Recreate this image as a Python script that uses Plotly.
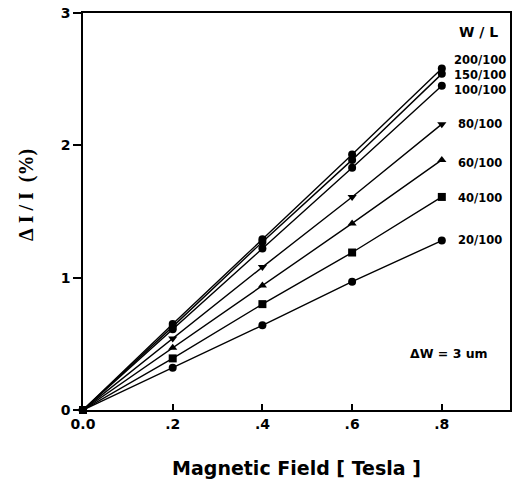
import plotly.graph_objects as go

field = [0.0, 0.2, 0.4, 0.6, 0.8]
series_names = ["200/100", "150/100", "100/100", "80/100", "60/100", "40/100", "20/100"]
values = {
    "200/100": [0.0, 0.65, 1.29, 1.93, 2.58],
    "150/100": [0.0, 0.63, 1.27, 1.89, 2.54],
    "100/100": [0.0, 0.61, 1.22, 1.83, 2.45],
    "80/100": [0.0, 0.54, 1.08, 1.61, 2.16],
    "60/100": [0.0, 0.47, 0.94, 1.41, 1.89],
    "40/100": [0.0, 0.39, 0.80, 1.19, 1.61],
    "20/100": [0.0, 0.32, 0.64, 0.97, 1.28],
}
symbols = {
    "200/100": "circle", "150/100": "circle", "100/100": "circle",
    "80/100": "triangle-down", "60/100": "triangle-up",
    "40/100": "square", "20/100": "circle",
}
label_y = [2.645, 2.535, 2.42, 2.16, 1.87, 1.60, 1.285]
x_ticks = [0.0, 0.2, 0.4, 0.6, 0.8]
x_tick_text = ["0.0", ".2", ".4", ".6", ".8"]
y_ticks = [0, 1, 2, 3]

SANS = "DejaVu Sans"
SERIF = "Liberation Serif"
fig = go.Figure()
for name in series_names:
    fig.add_trace(go.Scatter(
        x=field, y=values[name], mode="lines+markers", name=name,
        line=dict(color="black", width=1.4),
        marker=dict(symbol=symbols[name], size=8, color="black"),
        showlegend=False, cliponaxis=False,
    ))

for name, ly in zip(series_names, label_y):
    fig.add_annotation(x=0.884, y=ly, text=name, showarrow=False,
                       xref="x", yref="y",
                       font=dict(family=SANS, size=11.5, color="black", weight="bold"))
fig.add_annotation(x=0.882, y=2.86, text="W\u00a0/\u00a0L", showarrow=False,
                   font=dict(family=SANS, size=14, color="black", weight="bold"))
fig.add_annotation(x=0.816, y=0.43, text="ΔW = 3 um", showarrow=False,
                   font=dict(family=SANS, size=12.5, color="black", weight="bold"))
fig.add_annotation(x=-0.131, y=0.542, xref="paper", yref="paper",
                   text="Δ\u00a0I\u00a0/\u00a0I\u00a0\u00a0(%)", textangle=-90,
                   showarrow=False, xanchor="center", yanchor="middle",
                   font=dict(family=SERIF, size=20, color="black", weight="bold"))

fig.update_layout(
    width=514, height=483,
    margin=dict(l=83, r=4, t=13, b=73),
    plot_bgcolor="white", paper_bgcolor="white",
    font=dict(family=SANS, color="black"),
)
fig.update_xaxes(
    range=[0, 0.952], tickvals=x_ticks, ticktext=x_tick_text, automargin=False,
    ticks="inside", ticklen=6, tickwidth=1.5, tickcolor="black",
    showline=True, linecolor="black", linewidth=1.5, mirror=True,
    showgrid=False, zeroline=False, ticklabeloverflow="allow",
    tickfont=dict(family=SANS, size=14, color="black", weight="bold"),
    title=dict(text="Magnetic Field [ Tesla ]", standoff=31,
               font=dict(family=SANS, size=19, color="black", weight="bold")),
)
fig.update_yaxes(
    range=[0, 3], tickvals=y_ticks, automargin=False,
    ticks="outside", ticklen=8, tickwidth=1.5, tickcolor="black",
    showline=True, linecolor="black", linewidth=1.5, mirror=True,
    showgrid=False, zeroline=False, ticklabeloverflow="allow",
    tickfont=dict(family=SANS, size=14, color="black", weight="bold"),
)
fig.write_html("out.html", config={"displayModeBar": False},
               post_script="document.body.style.margin='0';")
